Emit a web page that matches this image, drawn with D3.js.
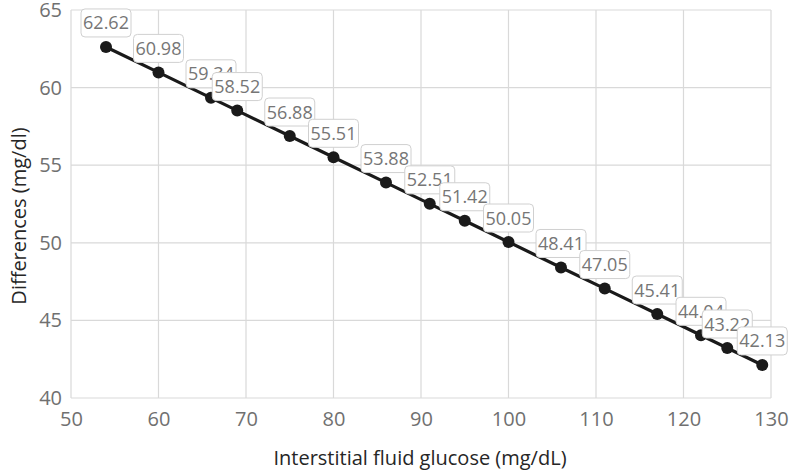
<!DOCTYPE html>
<html>
<head>
<meta charset="utf-8">
<script src="https://cdn.jsdelivr.net/npm/d3@7"></script>
<style>
  body { margin: 0; background: #fff; }
  text { font-family: "Open Sans", sans-serif; }
</style>
</head>
<body>
<svg id="chart" width="789" height="470"></svg>
<script>
// data
const glucose = [54, 60, 66, 69, 75, 80, 86, 91, 95, 100, 106, 111, 117, 122, 125, 129]
const differences = [62.62, 60.98, 59.34, 58.52, 56.88, 55.51, 53.88, 52.51, 51.42, 50.05, 48.41, 47.05, 45.41, 44.04, 43.22, 42.13]
const xTicks = [50, 60, 70, 80, 90, 100, 110, 120, 130]
const yTicks = [40, 45, 50, 55, 60, 65]

const svg = d3.select("#chart")
const margin = {left: 71, right: 18, top: 10, bottom: 72}
const W = 789, H = 470

const x = d3.scaleLinear().domain([50, 130]).range([margin.left, W - margin.right])
const y = d3.scaleLinear().domain([40, 65]).range([H - margin.bottom, margin.top])

const gridColor = "#d9d9d9"
const tickColor = "#707070"

// gridlines
svg.append("g").selectAll("line").data(xTicks).enter().append("line")
  .attr("x1", d => x(d)).attr("x2", d => x(d))
  .attr("y1", y(40)).attr("y2", y(65))
  .attr("stroke", gridColor).attr("stroke-width", 1.2)
svg.append("g").selectAll("line").data(yTicks).enter().append("line")
  .attr("x1", x(50)).attr("x2", x(130))
  .attr("y1", d => y(d)).attr("y2", d => y(d))
  .attr("stroke", gridColor).attr("stroke-width", 1.2)

// axes (text only, lines are the grid)
const xAxis = svg.append("g")
  .attr("transform", `translate(0,${y(40)})`)
  .call(d3.axisBottom(x).tickValues(xTicks).tickSize(0).tickPadding(14))
xAxis.select(".domain").remove()
xAxis.selectAll("text")
  .attr("fill", tickColor).style("font-size", "20px").style("font-family", "Open Sans")

const yAxis = svg.append("g")
  .attr("transform", `translate(${x(50)},0)`)
  .call(d3.axisLeft(y).tickValues(yTicks).tickSize(0).tickPadding(9))
yAxis.select(".domain").remove()
yAxis.selectAll("text")
  .attr("fill", tickColor).style("font-size", "20px").style("font-family", "Open Sans")

// axis titles
svg.append("text")
  .attr("x", 420).attr("y", 465)
  .attr("text-anchor", "middle")
  .attr("fill", "#262626")
  .style("font-size", "20px")
  .text("Interstitial fluid glucose (mg/dL)")

svg.append("text")
  .attr("transform", "translate(18,216) rotate(-90)")
  .attr("text-anchor", "middle")
  .attr("dominant-baseline", "central")
  .attr("fill", "#262626")
  .style("font-size", "20px")
  .text("Differences (mg/dl)")

// line + points
const pts = glucose.map((g, i) => ({x: g, y: differences[i]}))
svg.append("path")
  .datum(pts)
  .attr("fill", "none")
  .attr("stroke", "#1a1a1a")
  .attr("stroke-width", 3.2)
  .attr("d", d3.line().x(d => x(d.x)).y(d => y(d.y)))

svg.append("g").selectAll("circle").data(pts).enter().append("circle")
  .attr("cx", d => x(d.x)).attr("cy", d => y(d.y))
  .attr("r", 6)
  .attr("fill", "#1a1a1a")

// data labels, later ones on top
const boxW = 50, boxH = 28, gap = 10
pts.forEach(d => {
  const cx = x(d.x), cy = y(d.y)
  const lg = svg.append("g")
  lg.append("rect")
    .attr("x", cx - boxW / 2).attr("y", cy - gap - boxH)
    .attr("width", boxW).attr("height", boxH)
    .attr("rx", 4)
    .attr("fill", "#fff")
    .attr("stroke", "#d0d0d0")
    .attr("stroke-width", 1)
  lg.append("text")
    .attr("x", cx).attr("y", cy - gap - boxH / 2 + 6.5)
    .attr("text-anchor", "middle")
    .attr("fill", "#767676")
    .style("font-size", "18px")
    .text(d.y.toFixed(2))
})
</script>
</body>
</html>
